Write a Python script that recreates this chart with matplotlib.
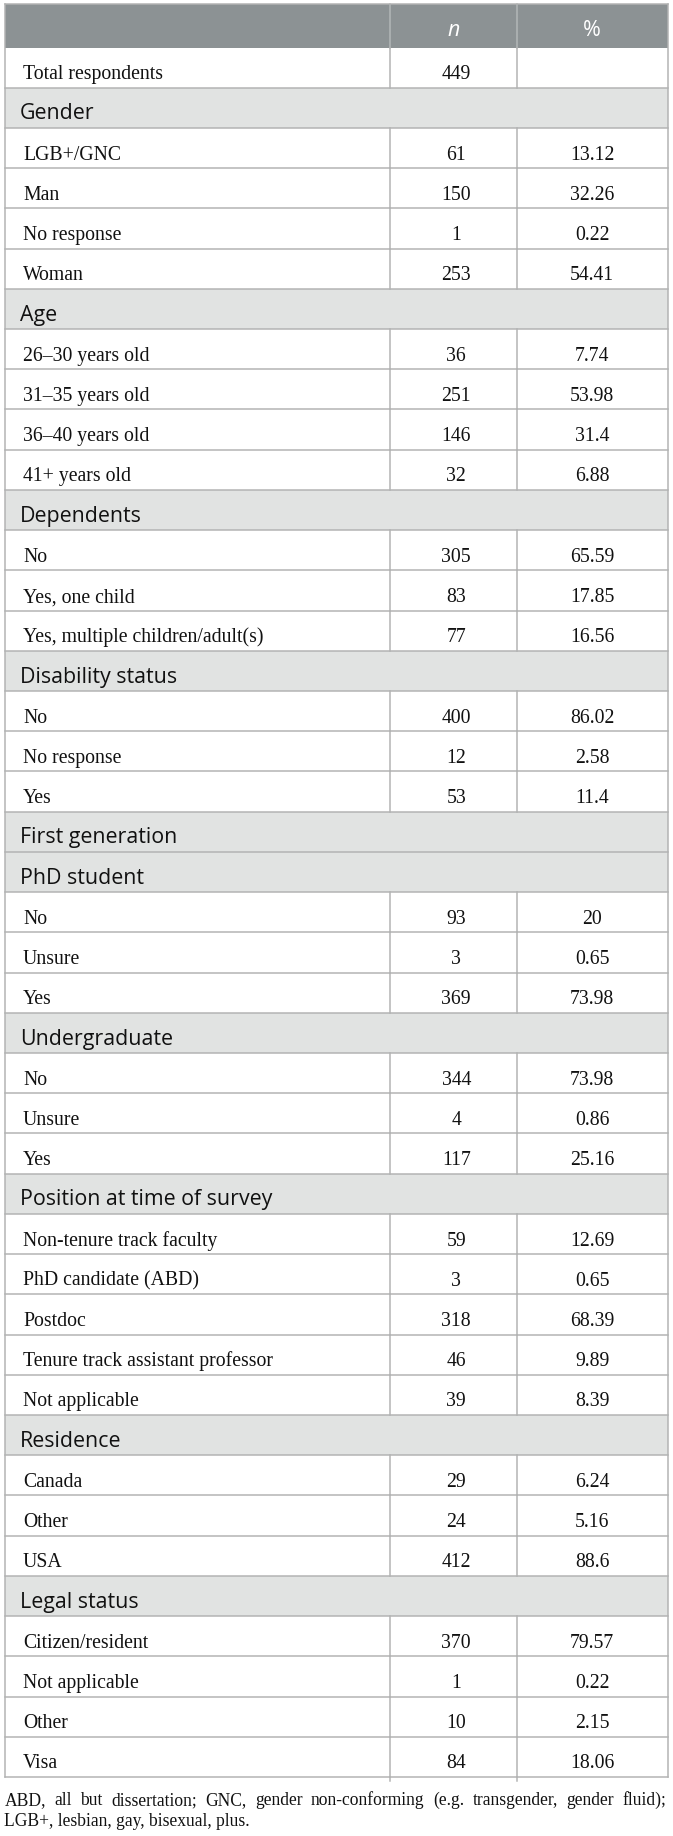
import matplotlib
matplotlib.use("Agg")
import matplotlib.pyplot as plt
from matplotlib.patches import Rectangle

# ---------------- data ----------------
col_headers = ["n", "%"]
total_label = "Total respondents"
total_n = 449

section_names = ["Gender", "Age", "Dependents", "Disability status",
                 "First generation", "PhD student", "Undergraduate",
                 "Position at time of survey", "Residence", "Legal status"]

gender_labels = ["LGB+/GNC", "Man", "No response", "Woman"]
gender_n = [61, 150, 1, 253]
gender_pct = [13.12, 32.26, 0.22, 54.41]

age_labels = ["26\u201330 years old", "31\u201335 years old", "36\u201340 years old", "41+ years old"]
age_n = [36, 251, 146, 32]
age_pct = [7.74, 53.98, 31.4, 6.88]

dep_labels = ["No", "Yes, one child", "Yes, multiple children/adult(s)"]
dep_n = [305, 83, 77]
dep_pct = [65.59, 17.85, 16.56]

dis_labels = ["No", "No response", "Yes"]
dis_n = [400, 12, 53]
dis_pct = [86.02, 2.58, 11.4]

firstgen_labels = []
firstgen_n = []
firstgen_pct = []

phd_labels = ["No", "Unsure", "Yes"]
phd_n = [93, 3, 369]
phd_pct = [20, 0.65, 73.98]

ug_labels = ["No", "Unsure", "Yes"]
ug_n = [344, 4, 117]
ug_pct = [73.98, 0.86, 25.16]

pos_labels = ["Non-tenure track faculty", "PhD candidate (ABD)", "Postdoc",
              "Tenure track assistant professor", "Not applicable"]
pos_n = [59, 3, 318, 46, 39]
pos_pct = [12.69, 0.65, 68.39, 9.89, 8.39]

res_labels = ["Canada", "Other", "USA"]
res_n = [29, 24, 412]
res_pct = [6.24, 5.16, 88.6]

legal_labels = ["Citizen/resident", "Not applicable", "Other", "Visa"]
legal_n = [370, 1, 10, 84]
legal_pct = [79.57, 0.22, 2.15, 18.06]

footnote_line1 = ("ABD, all but dissertation; GNC, gender non-conforming "
                  "(e.g. transgender, gender fluid);")
footnote_line2 = "LGB+, lesbian, gay, bisexual, plus."

section_data = [
    (gender_labels, gender_n, gender_pct),
    (age_labels, age_n, age_pct),
    (dep_labels, dep_n, dep_pct),
    (dis_labels, dis_n, dis_pct),
    (firstgen_labels, firstgen_n, firstgen_pct),
    (phd_labels, phd_n, phd_pct),
    (ug_labels, ug_n, ug_pct),
    (pos_labels, pos_n, pos_pct),
    (res_labels, res_n, res_pct),
    (legal_labels, legal_n, legal_pct),
]

# build row list: (kind, label, n, pct)
rows = [("data", total_label, str(total_n), "")]
for name, (labs, ns, ps) in zip(section_names, section_data):
    rows.append(("group", name, "", ""))
    for l, n, p in zip(labs, ns, ps):
        rows.append(("data", l, str(n), f"{p:g}"))

# ---------------- layout ----------------
W, H = 673, 1836
fig = plt.figure(figsize=(W / 100, H / 100), dpi=100)
ax = fig.add_axes([0, 0, 1, 1])
ax.set_xlim(0, W)
ax.set_ylim(H, 0)
ax.axis("off")

x_left, x_d1, x_d2, x_right = 4.5, 389.5, 517.0, 667.5
head_top, head_bot = 4.0, 47.5
row_h = 40.22

HEAD_BG = "#8c9294"
GROUP_BG = "#e1e3e2"
LINE = "#b2b3b3"
HEAD_LINE = "#b3b8b9"
TXT = "#111111"
lw = 1.5 * 72 / 100

SERIF = "Liberation Serif"
SANS = "Open Sans"

fig.canvas.draw()
renderer = fig.canvas.get_renderer()


def fit(text, family, target, style="normal"):
    t = ax.text(0, 0, text, fontsize=10, family=family, style=style)
    w = t.get_window_extent(renderer).width
    t.remove()
    return 10 * target / w


fs_serif = 1.02 * (fit("Total respondents", SERIF, 138)
                   + fit("Yes, multiple children/adult(s)", SERIF, 234)) / 2
fs_sans = (fit("Disability status", SANS, 156) + fit("Gender", SANS, 75)) / 2
fs_foot = fit(footnote_line2, SERIF, 246)

# header
ax.add_patch(Rectangle((x_left, head_top), x_right - x_left, head_bot - head_top,
                       facecolor=HEAD_BG, edgecolor="none", zorder=1))
ax.plot([x_d1, x_d1], [head_top, head_bot], color=HEAD_LINE, lw=lw, zorder=3)
ax.plot([x_d2, x_d2], [head_top, head_bot], color=HEAD_LINE, lw=lw, zorder=3)
ax.text((x_d1 + x_d2) / 2, 36, col_headers[0], family=SANS, style="italic",
        fontsize=fs_sans, color="white", ha="center", va="baseline", zorder=4)
ax.text((x_d2 + x_right) / 2, 36, col_headers[1], family=SANS,
        fontsize=fs_sans, color="white", ha="center", va="baseline", zorder=4)

# body rows
n_center = (x_d1 + x_d2) / 2 + 3
p_center = (x_d2 + x_right) / 2
y = head_bot
for kind, label, n, p in rows:
    top, bot = y, y + row_h
    base = bot - 8.5
    if kind == "group":
        ax.add_patch(Rectangle((x_left, top), x_right - x_left, row_h,
                               facecolor=GROUP_BG, edgecolor="none", zorder=1))
        ax.text(20, base, label, family=SANS, fontsize=fs_sans, color=TXT,
                ha="left", va="baseline", zorder=4)
    else:
        ax.plot([x_d1, x_d1], [top, bot], color=LINE, lw=lw, zorder=3)
        ax.plot([x_d2, x_d2], [top, bot], color=LINE, lw=lw, zorder=3)
        ax.text(23, base, label, family=SERIF, fontsize=fs_serif, color=TXT,
                ha="left", va="baseline", zorder=4)
        ax.text(n_center, base, n, family=SERIF, fontsize=fs_serif,
                color=TXT, ha="center", va="baseline", zorder=4)
        ax.text(p_center, base, p, family=SERIF, fontsize=fs_serif,
                color=TXT, ha="center", va="baseline", zorder=4)
    ax.plot([x_left, x_right], [bot, bot], color=LINE, lw=lw, zorder=3)
    y = bot
table_bot = y

# outer borders
ax.plot([x_left, x_left], [head_top, table_bot], color=LINE, lw=lw, zorder=3)
ax.plot([x_right, x_right], [head_top, table_bot], color=LINE, lw=lw, zorder=3)
ax.plot([x_left, x_right], [head_top, head_top], color=LINE, lw=lw, zorder=3)
# dividers poke slightly below bottom
ax.plot([x_d1, x_d1], [table_bot, table_bot + 4], color=LINE, lw=lw, zorder=3)
ax.plot([x_d2, x_d2], [table_bot, table_bot + 4], color=LINE, lw=lw, zorder=3)

# footnote, line 1 justified
words = footnote_line1.split()
fx0, fx1 = 4.5, 666.0
ws = []
for wd in words:
    t = ax.text(0, 0, wd, family=SERIF, fontsize=fs_foot)
    ws.append(t.get_window_extent(renderer).width)
    t.remove()
gap = (fx1 - fx0 - sum(ws)) / (len(words) - 1)
xx = fx0
for wd, w in zip(words, ws):
    ax.text(xx, 1805, wd, family=SERIF, fontsize=fs_foot, color=TXT,
            ha="left", va="baseline")
    xx += w + gap
ax.text(fx0, 1826, footnote_line2, family=SERIF, fontsize=fs_foot, color=TXT,
        ha="left", va="baseline")

fig.savefig("out.png", dpi=100)
